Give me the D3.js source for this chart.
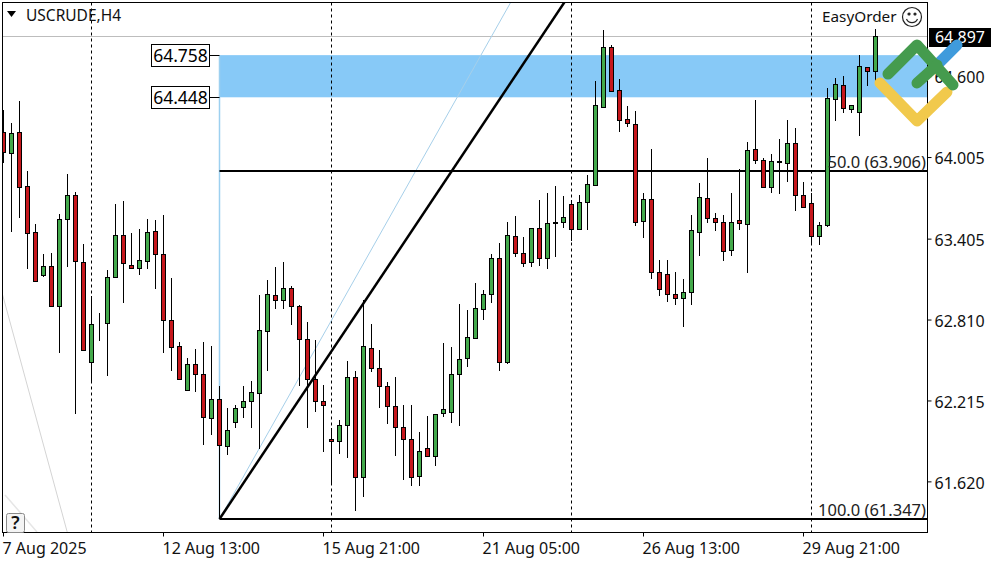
<!DOCTYPE html>
<html>
<head>
<meta charset="utf-8">
<style>
html,body{margin:0;padding:0;background:#fff;}
svg{display:block;}
text{font-family:"Noto Sans",sans-serif;}
</style>
<script src="https://cdn.jsdelivr.net/npm/d3@7/dist/d3.min.js"></script>
</head>
<body>
<svg id="c" width="1000" height="562"></svg>
<script>
const opens=[64.195,64.036,64.191,63.794,63.456,63.144,63.206,62.916,63.551,63.728,
63.235,62.500,62.794,62.787,63.129,63.434,63.213,63.195,63.247,63.463,
63.294,62.809,62.618,62.299,62.485,62.412,62.087,62.228,61.886,62.063,
62.168,62.212,62.272,62.728,62.993,62.956,63.044,62.912,62.669,62.375,
62.212,61.933,61.918,62.036,62.390,61.654,62.603,62.456,62.324,62.176,
62.021,61.933,61.661,61.867,61.808,62.124,62.132,62.412,62.529,62.681,
62.890,63.000,63.264,62.504,63.426,63.301,63.235,63.485,63.264,63.524,
63.529,63.661,63.482,63.681,63.805,64.379,64.815,64.499,64.286,64.249,
63.536,63.698,63.162,63.147,63.000,62.970,63.015,63.460,63.705,63.563,
63.534,63.325,63.546,63.514,64.066,63.985,63.791,63.972,63.963,64.110,
63.732,63.669,63.426,63.511,64.433,64.536,64.360,64.338,64.668,64.639];
const closes=[64.044,64.183,63.791,63.453,63.100,63.206,62.916,63.551,63.728,63.247,
62.593,62.779,62.794,63.125,63.434,63.228,63.195,63.250,63.456,63.294,
62.809,62.610,62.375,62.485,62.416,62.095,62.228,61.888,61.999,62.161,
62.212,62.280,62.735,63.000,62.956,63.044,62.912,62.669,62.375,62.212,
62.183,61.918,62.036,62.390,61.654,62.618,62.456,62.324,62.176,62.021,
61.933,61.654,61.845,61.808,62.117,62.154,62.412,62.522,62.684,62.897,
63.000,63.264,62.504,63.434,63.301,63.228,63.485,63.264,63.522,63.529,
63.566,63.478,63.676,63.808,64.389,64.815,64.496,64.279,64.261,63.534,
63.698,63.162,63.037,63.000,62.970,63.019,63.470,63.713,63.561,63.534,
63.320,63.534,63.526,64.058,63.985,63.791,63.977,63.977,64.110,63.732,
63.644,63.431,63.507,64.440,64.543,64.367,64.389,64.676,64.639,64.897];
const highs=[64.354,64.257,64.421,63.906,63.514,63.296,63.301,63.588,63.884,63.750,
63.370,62.987,62.865,63.176,63.661,63.686,63.453,63.480,63.553,63.546,
63.583,63.117,62.647,62.529,62.598,62.647,62.620,62.326,62.161,62.185,
62.328,62.363,62.995,63.105,63.203,63.235,63.061,62.921,62.796,62.664,
62.333,62.018,62.075,62.510,62.436,62.958,62.782,62.590,62.353,62.394,
62.185,62.185,61.987,62.104,62.117,62.644,62.615,62.929,62.884,63.085,
63.032,63.294,63.375,63.529,63.575,63.423,63.485,63.693,63.747,63.798,
63.722,63.693,63.728,63.877,64.568,64.942,64.832,64.582,64.384,64.349,
63.742,64.068,63.252,63.252,63.164,63.113,63.583,63.820,63.999,63.597,
63.583,63.747,63.921,64.117,64.428,63.999,64.031,64.141,64.281,64.220,
63.825,63.747,63.529,64.514,64.587,64.604,64.391,64.759,64.668,64.948];
const lows=[63.963,63.460,63.563,63.186,63.093,63.129,62.916,62.566,63.203,62.119,
62.593,62.346,62.659,62.402,63.117,62.938,63.195,63.142,63.186,63.039,
62.571,62.436,62.375,62.291,62.284,61.891,61.965,61.347,61.818,62.018,
62.087,62.018,61.862,62.438,62.890,62.892,62.774,62.328,62.018,62.136,
61.842,61.597,61.825,61.798,61.408,61.511,62.427,62.165,62.048,61.813,
61.636,61.592,61.592,61.801,61.739,62.095,62.055,62.033,62.468,62.679,
62.811,62.938,62.436,62.488,63.276,63.203,63.203,63.210,63.186,63.276,
63.489,63.394,63.478,63.472,63.798,64.367,64.489,64.195,64.227,63.504,
63.416,63.110,62.990,62.943,62.921,62.762,62.921,63.284,63.526,63.465,
63.245,63.284,63.472,63.159,63.958,63.791,63.747,63.739,63.828,63.614,
63.644,63.362,63.362,63.497,64.276,64.330,64.335,64.166,64.531,64.563];
const priceTicks=["64.600","64.005","63.405","62.810","62.215","61.620"];
const timeTickBars=[0,20,40,60,80,100];
const timeTickLabels=["7 Aug 2025","12 Aug 13:00","15 Aug 21:00","21 Aug 05:00","26 Aug 13:00","29 Aug 21:00"];
const separatorBars=[11,41,71,101];
const zoneHigh=64.758, zoneLow=64.448;
const fiboAnchorBar=27;
const fibo50=63.906, fibo100=61.347;
const lastPrice=64.897;

const W=1000,H=562,L=2.5,T=2.5,R=927.5,B=532.5;
const FS=16;
const x=d3.scaleLinear().domain([0,109]).range([3.5,875.5]);
const y=d3.scaleLinear().domain([fibo100,fibo50]).range([519,171]);
const svg=d3.select("#c");
const px=v=>Math.round(v)+0.5;
svg.append("clipPath").attr("id","plot").append("rect").attr("x",L).attr("y",T).attr("width",R-L).attr("height",B-T);
const plot=svg.append("g").attr("clip-path","url(#plot)");
const line=(g,b0,p0,b1,p1,col,w)=>g.append("line").attr("x1",x(b0)).attr("y1",y(p0)).attr("x2",x(b1)).attr("y2",y(p1)).attr("stroke",col).attr("stroke-width",w);

// faint old trendlines
line(plot,-0.125,62.998,7.96,61.252,"#d4d4d4",1);
line(plot,0.19,61.524,4.19,61.252,"#e6e6e6",1.5);

// bid line
plot.append("line").attr("x1",L).attr("x2",R).attr("y1",px(y(lastPrice))).attr("y2",px(y(lastPrice))).attr("stroke","#bdbdbd").attr("stroke-width",1);

// supply zone
plot.append("rect").attr("x",x(fiboAnchorBar)).attr("width",R-x(fiboAnchorBar))
  .attr("y",y(zoneHigh)).attr("height",y(zoneLow)-y(zoneHigh)).attr("fill","#87c9f7");
line(plot,fiboAnchorBar,zoneHigh,fiboAnchorBar,fibo100,"#9dd0f0",1.5);

// period separators
plot.selectAll("line.sep").data(separatorBars).join("line").attr("class","sep")
  .attr("x1",d=>x(d)).attr("x2",d=>x(d)).attr("y1",T).attr("y2",B)
  .attr("stroke","#000").attr("stroke-width",1).attr("stroke-dasharray","3,3");

// fibo lines
const fan=plot.append("g");
line(fan,fiboAnchorBar,fibo100,63.56,65.163,"#a6cfe9",1);
line(fan,fiboAnchorBar,fibo100,70.3,65.163,"#000",2.5);
[fibo50,fibo100].forEach(p=>{
  fan.append("line").attr("x1",x(fiboAnchorBar)).attr("x2",R).attr("y1",y(p)).attr("y2",y(p)).attr("stroke","#000").attr("stroke-width",2);
});

// candles
const bars=d3.range(opens.length);
const cg=plot.append("g");
cg.selectAll("line.w").data(bars).join("line").attr("class","w")
  .attr("x1",i=>x(i)).attr("x2",i=>x(i)).attr("y1",i=>Math.round(y(highs[i]))).attr("y2",i=>Math.round(y(lows[i])))
  .attr("stroke","#000").attr("stroke-width",1);
cg.selectAll("rect.b").data(bars).join("rect").attr("class","b")
  .attr("x",i=>x(i)-2).attr("width",4)
  .attr("y",i=>px(y(Math.max(opens[i],closes[i]))))
  .attr("height",i=>Math.max(0,px(y(Math.min(opens[i],closes[i])))-px(y(Math.max(opens[i],closes[i])))))
  .attr("fill",i=>closes[i]>=opens[i]?"#43a94b":"#c6171c")
  .attr("stroke","#000").attr("stroke-width",1);

// frame
svg.append("rect").attr("x",L).attr("y",T).attr("width",R-L).attr("height",B-T).attr("fill","none").attr("stroke","#000");

// axes
const axR=d3.axisRight(y).tickValues(priceTicks.map(Number)).tickFormat((d,i)=>priceTicks[i]).tickSize(4).tickPadding(3).offset(0);
const gR=svg.append("g").attr("transform",`translate(${R},0)`).call(axR);
gR.select(".domain").remove();
gR.selectAll("text").attr("font-size",FS).attr("fill","#111").attr("font-family","Noto Sans").attr("dy","0.42em");
const axB=d3.axisBottom(x).tickValues(timeTickBars).tickFormat((d,i)=>timeTickLabels[i]).tickSize(4).tickPadding(6).offset(0);
const gB=svg.append("g").attr("transform",`translate(0,${B})`).call(axB);
gB.select(".domain").remove();
gB.selectAll("text").attr("text-anchor","start").attr("x",-1).attr("font-size",FS).attr("fill","#111").attr("font-family","Noto Sans");

// fibo labels
const lab=(t,xx,yy,anchor,size,col)=>svg.append("text").text(t).attr("x",xx).attr("y",yy).attr("text-anchor",anchor).attr("font-size",size).attr("fill",col);
lab("50.0 ("+fibo50.toFixed(3)+")",926,y(fibo50)-3,"end",16.5,"#222");
lab("100.0 ("+fibo100.toFixed(3)+")",926,y(fibo100)-3,"end",16.5,"#222");

// zone price labels
[zoneHigh,zoneLow].forEach(p=>{
  const yy=Math.round(y(p))+0.5;
  svg.append("line").attr("x1",209).attr("x2",x(fiboAnchorBar)).attr("y1",yy).attr("y2",yy).attr("stroke","#000");
  svg.append("rect").attr("x",151.5).attr("y",yy-11).attr("width",58).attr("height",22).attr("fill","#fff").attr("stroke","#000");
  lab(p.toFixed(3),180.5,yy+6.5,"middle",17.5,"#000");
});

// title
svg.append("path").attr("d","M7,11H16L11.5,17Z").attr("fill","#000");
lab("USCRUDE,H4",26,21,"start",15.5,"#111");
lab("EasyOrder",822,22,"start",15.3,"#111");
const s=svg.append("g").attr("transform","translate(912,17)").attr("fill","none").attr("stroke","#222").attr("stroke-width",1.2);
s.append("circle").attr("r",9.5);
s.append("path").attr("d","M-5.5,2A6,6 0 0 0 5.5,2");
s.append("circle").attr("cx",-3).attr("cy",-3).attr("r",1).attr("fill","#222");
s.append("circle").attr("cx",3).attr("cy",-3).attr("r",1).attr("fill","#222");

// help box
svg.append("rect").attr("x",6.5).attr("y",513.5).attr("width",18).attr("height",19).attr("rx",2).attr("fill","#f4f4f4").attr("stroke","#8a8a8a");
lab("?",15.5,529,"middle",18,"#111").attr("font-weight","600");

// last price tag
svg.append("rect").attr("x",929).attr("y",28).attr("width",62).attr("height",19).attr("fill","#000");
lab(lastPrice.toFixed(3),960,43,"middle",FS,"#fff");

// logo
const logo=svg.append("g").attr("fill","none").attr("stroke-linecap","round").attr("stroke-linejoin","round").attr("stroke-width",11);
logo.append("path").attr("d","M880,83L917,121L947,92").attr("stroke","#f1c94c");
logo.append("path").attr("d","M938,64L957,45").attr("stroke","#3f9bdc");
logo.append("path").attr("d","M888,74L917,45L953,85").attr("stroke","#459b4e");
logo.append("path").attr("d","M917,83L937,65").attr("stroke","#459b4e");
</script>
</body>
</html>
